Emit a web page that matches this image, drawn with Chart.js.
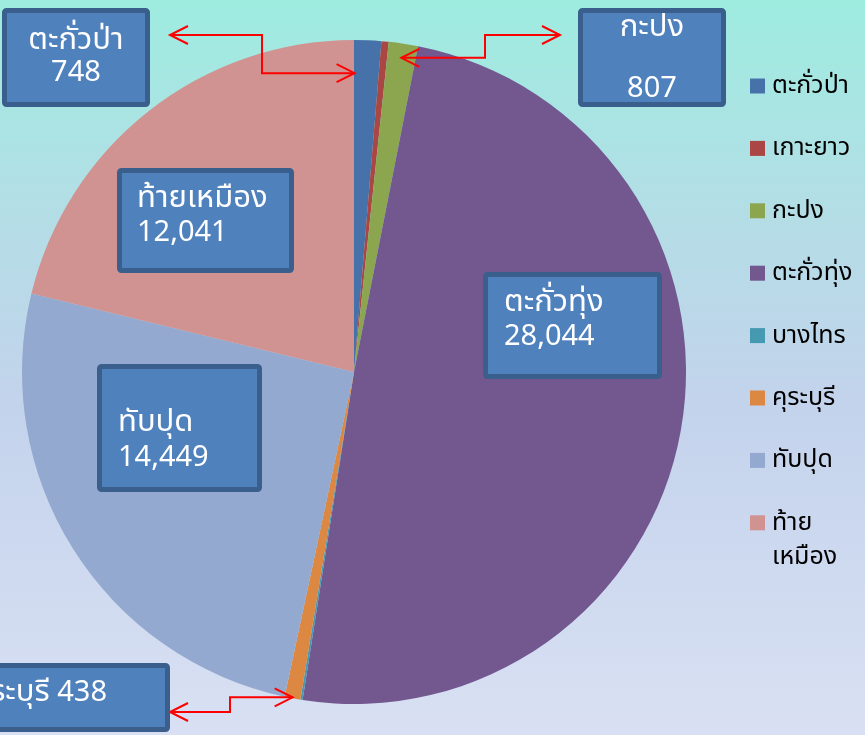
<!DOCTYPE html>
<html>
<head>
<meta charset="utf-8">
<script src="https://cdn.jsdelivr.net/npm/chart.js@4.4.1/dist/chart.umd.min.js"></script>
<style>
  html, body { margin: 0; padding: 0; }
  body {
    width: 865px; height: 735px; overflow: hidden;
    background: linear-gradient(to bottom, #9eece0 0%, #b4dde6 30%, #c3d3ec 55%, #d9e0f3 100%);
  }
  #wrap { position: relative; width: 865px; height: 735px; }
</style>
</head>
<body>
<div id="wrap"><canvas id="chart" width="865" height="735"></canvas></div>
<script>
// districts and population
var districts = ['ตะกั่วป่า', 'เกาะยาว', 'กะปง', 'ตะกั่วทุ่ง', 'บางไทร', 'คุระบุรี', 'ทับปุด', 'ท้ายเหมือง'];
var population = [748, 200, 807, 28044, 60, 438, 14449, 12041];
var legendLines = [['ตะกั่วป่า'], ['เกาะยาว'], ['กะปง'], ['ตะกั่วทุ่ง'], ['บางไทร'], ['คุระบุรี'], ['ทับปุด'], ['ท้าย', 'เหมือง']];
var sliceColors = ['#4672a9', '#aa4644', '#8ca64f', '#72588f', '#4599b0', '#dc8742', '#94a9d0', '#d09391'];

var FONT = 'Tahoma, "Noto Sans Thai", "Noto Sans", "DejaVu Sans", sans-serif';
var NAME_FONT = '31px ' + FONT;
var NUM_FONT = '29px ' + FONT;
var DY = 3; // small shift, the Thai font sits high with 'middle'

function fmt(v) { return v.toLocaleString('en-US'); }

// callout boxes: index into data, box rect, text layout
var callouts = [
  { i: 0, x: 2, y: 8, w: 148, h: 99, align: 'center', y1: 40, y2: 72 },
  { i: 2, x: 578, y: 8, w: 148, h: 99, align: 'center', y1: 27, y2: 88 },
  { i: 7, x: 117, y: 168, w: 177, h: 105, align: 'left', tx: 137, y1: 198, y2: 232 },
  { i: 3, x: 483, y: 272, w: 179, h: 107, align: 'left', tx: 504, y1: 302, y2: 336 },
  { i: 6, x: 97, y: 364, w: 165, h: 128, align: 'left', tx: 118, y1: 422, y2: 457 },
  { i: 5, x: -40, y: 663, w: 210, h: 69, align: 'single', tx: 107, y1: 692 }
];

function arrowHead(ctx, x, y, dx, dy) {
  var len = 18, half = 9;
  var n = Math.sqrt(dx * dx + dy * dy);
  var ux = dx / n, uy = dy / n;
  ctx.beginPath();
  ctx.moveTo(x - ux * len - uy * half, y - uy * len + ux * half);
  ctx.lineTo(x, y);
  ctx.lineTo(x - ux * len + uy * half, y - uy * len - ux * half);
  ctx.stroke();
}

function arcPoint(arc, angle, f) {
  return { x: arc.x + Math.cos(angle) * arc.outerRadius * f, y: arc.y + Math.sin(angle) * arc.outerRadius * f };
}

var calloutPlugin = {
  id: 'callouts',
  afterDraw: function (chart) {
    var ctx = chart.ctx;
    var arcs = chart.getDatasetMeta(0).data;
    ctx.save();

    // red elbow arrows
    var tips = [
      { arc: arcs[0], ang: arcs[0].startAngle + 0.002, f: 0.9, sx: 170, sy: 35, ex: 262 },
      { arc: arcs[2], ang: (arcs[2].startAngle + arcs[2].endAngle) / 2, f: 0.957, sx: 560, sy: 35, ex: 485 },
      { arc: arcs[5], ang: (arcs[5].startAngle + arcs[5].endAngle) / 2, f: 0.997, sx: 170, sy: 712, ex: 230 }
    ];
    ctx.strokeStyle = '#ff0000';
    ctx.lineWidth = 2;
    tips.forEach(function (t) {
      var p = arcPoint(t.arc, t.ang, t.f);
      ctx.beginPath();
      ctx.moveTo(t.sx, t.sy);
      ctx.lineTo(t.ex, t.sy);
      ctx.lineTo(t.ex, p.y);
      ctx.lineTo(p.x, p.y);
      ctx.stroke();
      arrowHead(ctx, t.sx, t.sy, t.sx - t.ex, 0);
      arrowHead(ctx, p.x, p.y, p.x - t.ex, 0);
    });

    // label boxes
    callouts.forEach(function (c) {
      ctx.fillStyle = '#4f81bd';
      ctx.strokeStyle = '#3a5f8c';
      ctx.lineWidth = 5;
      ctx.beginPath();
      ctx.roundRect(c.x + 2.5, c.y + 2.5, c.w - 5, c.h - 5, 2);
      ctx.fill();
      ctx.stroke();

      ctx.fillStyle = '#ffffff';
      ctx.textBaseline = 'middle';
      var name = districts[c.i], val = fmt(population[c.i]);
      if (c.align === 'center') {
        ctx.textAlign = 'center';
        ctx.font = NAME_FONT;
        ctx.fillText(name, c.x + c.w / 2, c.y1 + DY);
        ctx.font = NUM_FONT;
        ctx.fillText(val, c.x + c.w / 2, c.y2 + DY);
      } else if (c.align === 'left') {
        ctx.textAlign = 'left';
        ctx.font = NAME_FONT;
        ctx.fillText(name, c.tx, c.y1 + DY);
        ctx.font = NUM_FONT;
        ctx.fillText(val, c.tx, c.y2 + DY);
      } else {
        ctx.textAlign = 'right';
        ctx.font = NUM_FONT;
        ctx.fillText(val, c.tx, c.y1 + DY);
        var vw = ctx.measureText(' ' + val).width;
        ctx.font = NAME_FONT;
        ctx.fillText(name, c.tx - vw, c.y1 + DY);
      }
    });

    // legend on the right
    ctx.textAlign = 'left';
    ctx.textBaseline = 'middle';
    ctx.font = '25px ' + FONT;
    districts.forEach(function (d, k) {
      var cy = 86 + k * 62.4;
      ctx.fillStyle = sliceColors[k];
      ctx.fillRect(750, cy - 7.5, 15, 15);
      ctx.fillStyle = '#000000';
      legendLines[k].forEach(function (ln, j) {
        ctx.fillText(ln, 772, cy + 2 + j * 34);
      });
    });
    ctx.restore();
  }
};

var ctx = document.getElementById('chart');
new Chart(ctx, {
  type: 'pie',
  data: {
    labels: districts,
    datasets: [{
      data: population,
      backgroundColor: sliceColors,
      borderWidth: 0
    }]
  },
  options: {
    responsive: false,
    animation: false,
    layout: { padding: { left: 22, right: 179, top: 40, bottom: 31 } },
    plugins: {
      legend: { display: false },
      tooltip: { enabled: false }
    }
  },
  plugins: [calloutPlugin]
});
</script>
</body>
</html>
